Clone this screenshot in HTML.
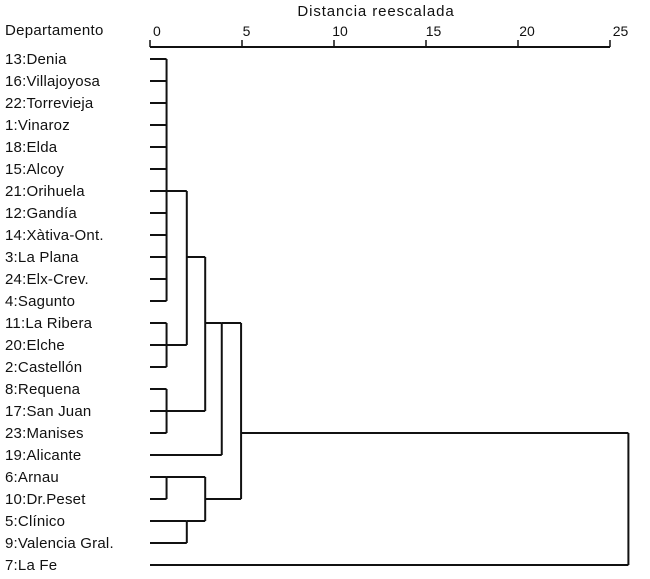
<!DOCTYPE html>
<html><head><meta charset="utf-8"><style>
html,body{margin:0;padding:0;background:#fff;}
svg{display:block;font-family:"Liberation Sans",Arial,sans-serif;}
</style></head><body>
<svg id="c" width="650" height="579"></svg>
<script>
const labels=["13:Denia","16:Villajoyosa","22:Torrevieja","1:Vinaroz","18:Elda","15:Alcoy","21:Orihuela","12:Gandía","14:Xàtiva-Ont.","3:La Plana","24:Elx-Crev.","4:Sagunto","11:La Ribera","20:Elche","2:Castellón","8:Requena","17:San Juan","23:Manises","19:Alicante","6:Arnau","10:Dr.Peset","5:Clínico","9:Valencia Gral.","7:La Fe"];
const ticks=[0,5,10,15,20,25];
// merges: children (leaf index as number, merge as "m"+idx), distance, connection row
const mergeChildren=[[0,1,2,3,4,5,6,7,8,9,10,11],[12,13,14],["m0","m1"],[15,16,17],["m2","m3"],["m4",18],[19,20],[21,22],["m6","m7"],["m5","m8"],["m9",23]];
const mergeDist=[0.9,0.9,2.0,0.9,3.0,3.9,0.9,2.0,3.0,4.95,26];
const mergeRow=[6,13,9,16,12,12,19,21,20,17,17];
const svg=document.getElementById('c');const NS="http://www.w3.org/2000/svg";
const X=d=>150+d*18.4, Y=i=>59+i*22;
function mk(t,a,txt){const e=document.createElementNS(NS,t);for(const k in a)e.setAttribute(k,a[k]);if(txt!==undefined)e.textContent=txt;svg.appendChild(e);return e;}
let e=mk('text',{x:5,y:35,'font-size':15,fill:'#111','letter-spacing':0.3},'Departamento');


e=mk('text',{x:376,y:16,'font-size':15,fill:'#111','text-anchor':'middle','letter-spacing':0.9},'Distancia reescalada');


e=mk('line',{x1:X(0),x2:X(25),y1:47,y2:47,stroke:'#111','stroke-width':2});


ticks.forEach(t=>{
 let l=mk('line',{x1:X(t),x2:X(t),y1:40,y2:47,stroke:'#111','stroke-width':1.5});
 
 
 let s=mk('text',{x:X(t)+3+t*0.3,y:36,'font-size':14,fill:'#111','text-anchor':t==0?'start':'middle'},String(t));
 
 
});
labels.forEach((s,i)=>{
 let t=mk('text',{x:5,y:Y(i)+5,'font-size':15,fill:'#111','letter-spacing':0.2},s);
 
 
});
const info=[];
function node(c){if(typeof c==='number')return {row:c,d:0};return info[+c.slice(1)];}
mergeChildren.forEach((ch,k)=>{
 const d=mergeDist[k];const ns=ch.map(node);
 const rows=ns.map(n=>n.row);
 ns.forEach(n=>{let l=mk('line',{x1:X(n.d),x2:X(d),y1:Y(n.row),y2:Y(n.row),stroke:'#111','stroke-width':2});
  
  });
 let v=mk('line',{x1:X(d),x2:X(d),y1:Y(Math.min(...rows)),y2:Y(Math.max(...rows)),stroke:'#111','stroke-width':2});
 
 
 info[k]={row:mergeRow[k],d:d};
});
</script>
</body></html>
